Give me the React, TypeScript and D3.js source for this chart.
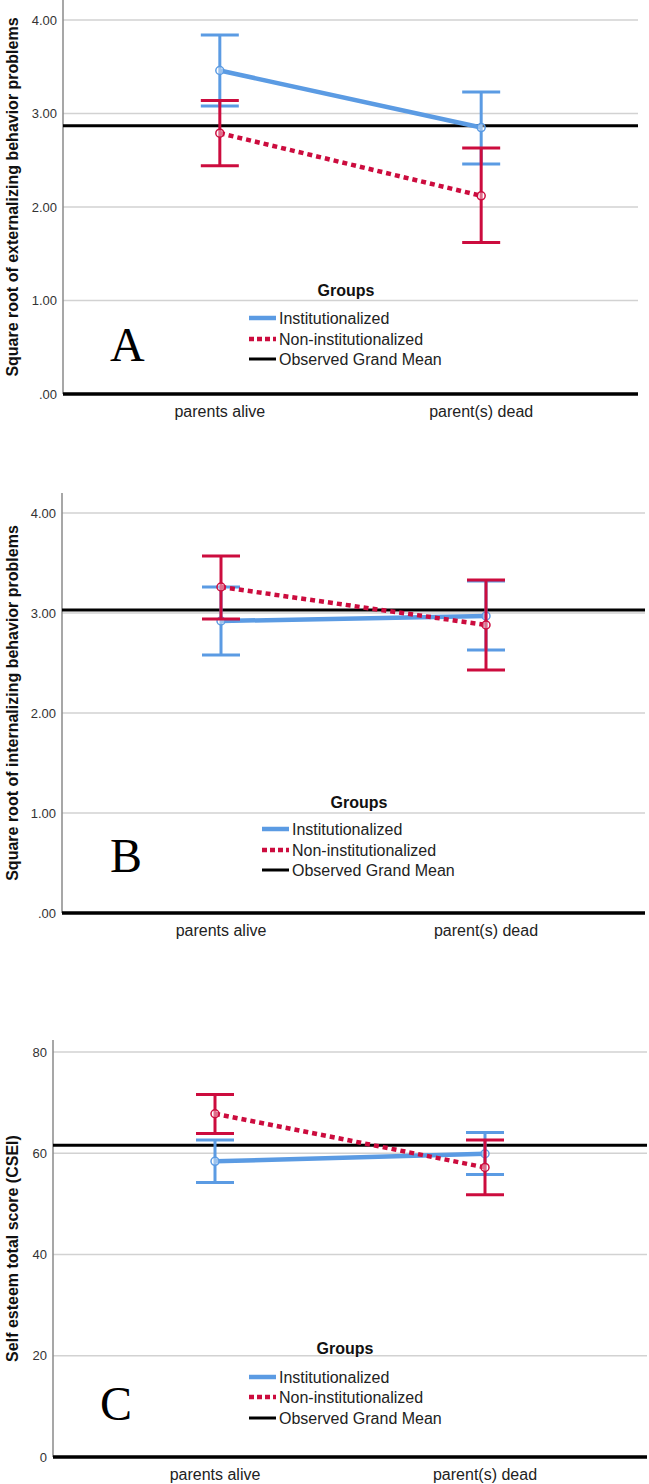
import React from "react";
import * as d3 from "d3";

// categories on the x axis
const categories = ["parents alive", "parent(s) dead"];
const legendLabels = ["Institutionalized", "Non-institutionalized", "Observed Grand Mean"];

// A: square root of externalizing behavior problems
const extInstMean = [3.46, 2.85];
const extInstLow = [3.08, 2.46];
const extInstHigh = [3.84, 3.23];
const extNonMean = [2.79, 2.12];
const extNonLow = [2.44, 1.62];
const extNonHigh = [3.14, 2.63];
const extGrandMean = 2.87;

// B: square root of internalizing behavior problems
const intInstMean = [2.92, 2.97];
const intInstLow = [2.58, 2.63];
const intInstHigh = [3.26, 3.32];
const intNonMean = [3.26, 2.88];
const intNonLow = [2.94, 2.43];
const intNonHigh = [3.57, 3.33];
const intGrandMean = 3.03;

// C: self esteem total score
const cseiInstMean = [58.4, 59.9];
const cseiInstLow = [54.2, 55.8];
const cseiInstHigh = [62.6, 64.1];
const cseiNonMean = [67.8, 57.2];
const cseiNonLow = [63.9, 51.8];
const cseiNonHigh = [71.6, 62.6];
const cseiGrandMean = 61.6;

const behaviorTicks = [0, 1, 2, 3, 4];
const cseiTicks = [0, 20, 40, 60, 80];

const BLUE = "#5b9be3";
const RED = "#cc0c3e";
const FONT = "'Liberation Sans', Arial, sans-serif";

type Series = { mean: number[]; low: number[]; high: number[] };

type PanelProps = {
  axisX: number;
  right: number;
  y0: number;
  yTop: number;
  unit: number; // pixels per unit
  ticks: number[];
  fmt: (v: number) => string;
  title: string;
  letter: string;
  letterX: number;
  inst: Series;
  non: Series;
  grand: number;
  groupsX: number;
  groupsY: number;
  legendX: number;
  rows: number[];
};

const Panel = (p: PanelProps) => {
  const yMax = (p.y0 - p.yTop) / p.unit;
  const y = d3.scaleLinear().domain([0, yMax]).range([p.y0, p.yTop]);
  const x = d3.scalePoint<string>().domain(categories).range([p.axisX, p.right]).padding(0.6).align(0.5);
  const line = d3.line<number>().x((_, i) => x(categories[i])!).y(d => y(d));
  const capW = 19;

  const drawSeries = (s: Series, color: string, dashed: boolean) => (
    <g>
      {categories.map((c, i) => (
        <g key={c}>
          <line x1={x(c)} x2={x(c)} y1={y(s.low[i])} y2={y(s.high[i])} stroke={color} strokeWidth={3} />
          <line x1={x(c)! - capW} x2={x(c)! + capW} y1={y(s.low[i])} y2={y(s.low[i])} stroke={color} strokeWidth={3} />
          <line x1={x(c)! - capW} x2={x(c)! + capW} y1={y(s.high[i])} y2={y(s.high[i])} stroke={color} strokeWidth={3} />
        </g>
      ))}
      <path d={line(s.mean)!} fill="none" stroke={color} strokeWidth={4.5}
        strokeDasharray={dashed ? "5,4" : undefined} />
      {categories.map((c, i) => (
        <circle key={c} cx={x(c)} cy={y(s.mean[i])} r={4} fill="#fff" fillOpacity={0.4} stroke={color} strokeWidth={1.5} />
      ))}
    </g>
  );

  const midY = (p.y0 + p.yTop) / 2;

  return (
    <g>
      {p.ticks.filter(t => t > 0).map(t => (
        <line key={t} x1={p.axisX} x2={p.right} y1={y(t)} y2={y(t)} stroke="#d2d2d2" strokeWidth={1.5} />
      ))}
      {p.ticks.map(t => (
        <text key={t} x={p.axisX - 6} y={y(t) + 4.5} textAnchor="end" fontSize={13} fill="#333">{p.fmt(t)}</text>
      ))}
      <line x1={p.axisX} x2={p.axisX} y1={p.yTop} y2={p.y0} stroke="#8a8a8a" strokeWidth={1.5} />
      <line x1={p.axisX} x2={p.right} y1={y(p.grand)} y2={y(p.grand)} stroke="#000" strokeWidth={3} />
      {drawSeries(p.inst, BLUE, false)}
      {drawSeries(p.non, RED, true)}
      <line x1={p.axisX} x2={p.right} y1={p.y0} y2={p.y0} stroke="#000" strokeWidth={3.5} />
      {categories.map(c => (
        <text key={c} x={x(c)} y={p.y0 + 23} textAnchor="middle" fontSize={16} fill="#222">{c}</text>
      ))}
      <text transform={`translate(18,${midY}) rotate(-90)`} textAnchor="middle" fontSize={16} fontWeight="bold" fill="#111">
        {p.title}
      </text>
      <text x={p.letterX} y={p.rows[2] + 2} fontFamily="'Liberation Serif', 'Times New Roman', serif" fontSize={48} fill="#000">
        {p.letter}
      </text>
      <text x={p.groupsX} y={p.groupsY + 6} textAnchor="middle" fontSize={16} fontWeight="bold" fill="#111">Groups</text>
      {legendLabels.map((l, i) => (
        <g key={l}>
          <line x1={p.legendX} x2={p.legendX + 27} y1={p.rows[i]} y2={p.rows[i]}
            stroke={i === 0 ? BLUE : i === 1 ? RED : "#000"} strokeWidth={i === 2 ? 3 : 4.5}
            strokeDasharray={i === 1 ? "5,3" : undefined} />
          <text x={p.legendX + 30} y={p.rows[i] + 6} fontSize={16} fill="#222">{l}</text>
        </g>
      ))}
    </g>
  );
};

export default function App() {
  const two = d3.format(".2f");
  const behaviorFmt = (v: number) => two(v).replace(/^0\./, ".");
  return (
    <svg width={649} height={1484} style={{ position: "absolute", left: 0, top: 0, background: "#fff" }}
      fontFamily={FONT}>
      <Panel axisX={63} right={638} y0={394} yTop={0} unit={93.5} ticks={behaviorTicks} fmt={behaviorFmt}
        title="Square root of externalizing behavior problems" letter="A" letterX={110}
        inst={{ mean: extInstMean, low: extInstLow, high: extInstHigh }}
        non={{ mean: extNonMean, low: extNonLow, high: extNonHigh }} grand={extGrandMean}
        groupsX={346} groupsY={290} legendX={249} rows={[318, 339, 359]} />
      <Panel axisX={62} right={645} y0={913} yTop={493} unit={100} ticks={behaviorTicks} fmt={behaviorFmt}
        title="Square root of internalizing behavior problems" letter="B" letterX={110}
        inst={{ mean: intInstMean, low: intInstLow, high: intInstHigh }}
        non={{ mean: intNonMean, low: intNonLow, high: intNonHigh }} grand={intGrandMean}
        groupsX={359} groupsY={802} legendX={262} rows={[829, 850, 870]} />
      <Panel axisX={53} right={647} y0={1457} yTop={1040} unit={5.0625} ticks={cseiTicks} fmt={d3.format("d")}
        title="Self esteem total score (CSEI)" letter="C" letterX={100}
        inst={{ mean: cseiInstMean, low: cseiInstLow, high: cseiInstHigh }}
        non={{ mean: cseiNonMean, low: cseiNonLow, high: cseiNonHigh }} grand={cseiGrandMean}
        groupsX={345} groupsY={1348} legendX={249} rows={[1377, 1397, 1418]} />
    </svg>
  );
}
